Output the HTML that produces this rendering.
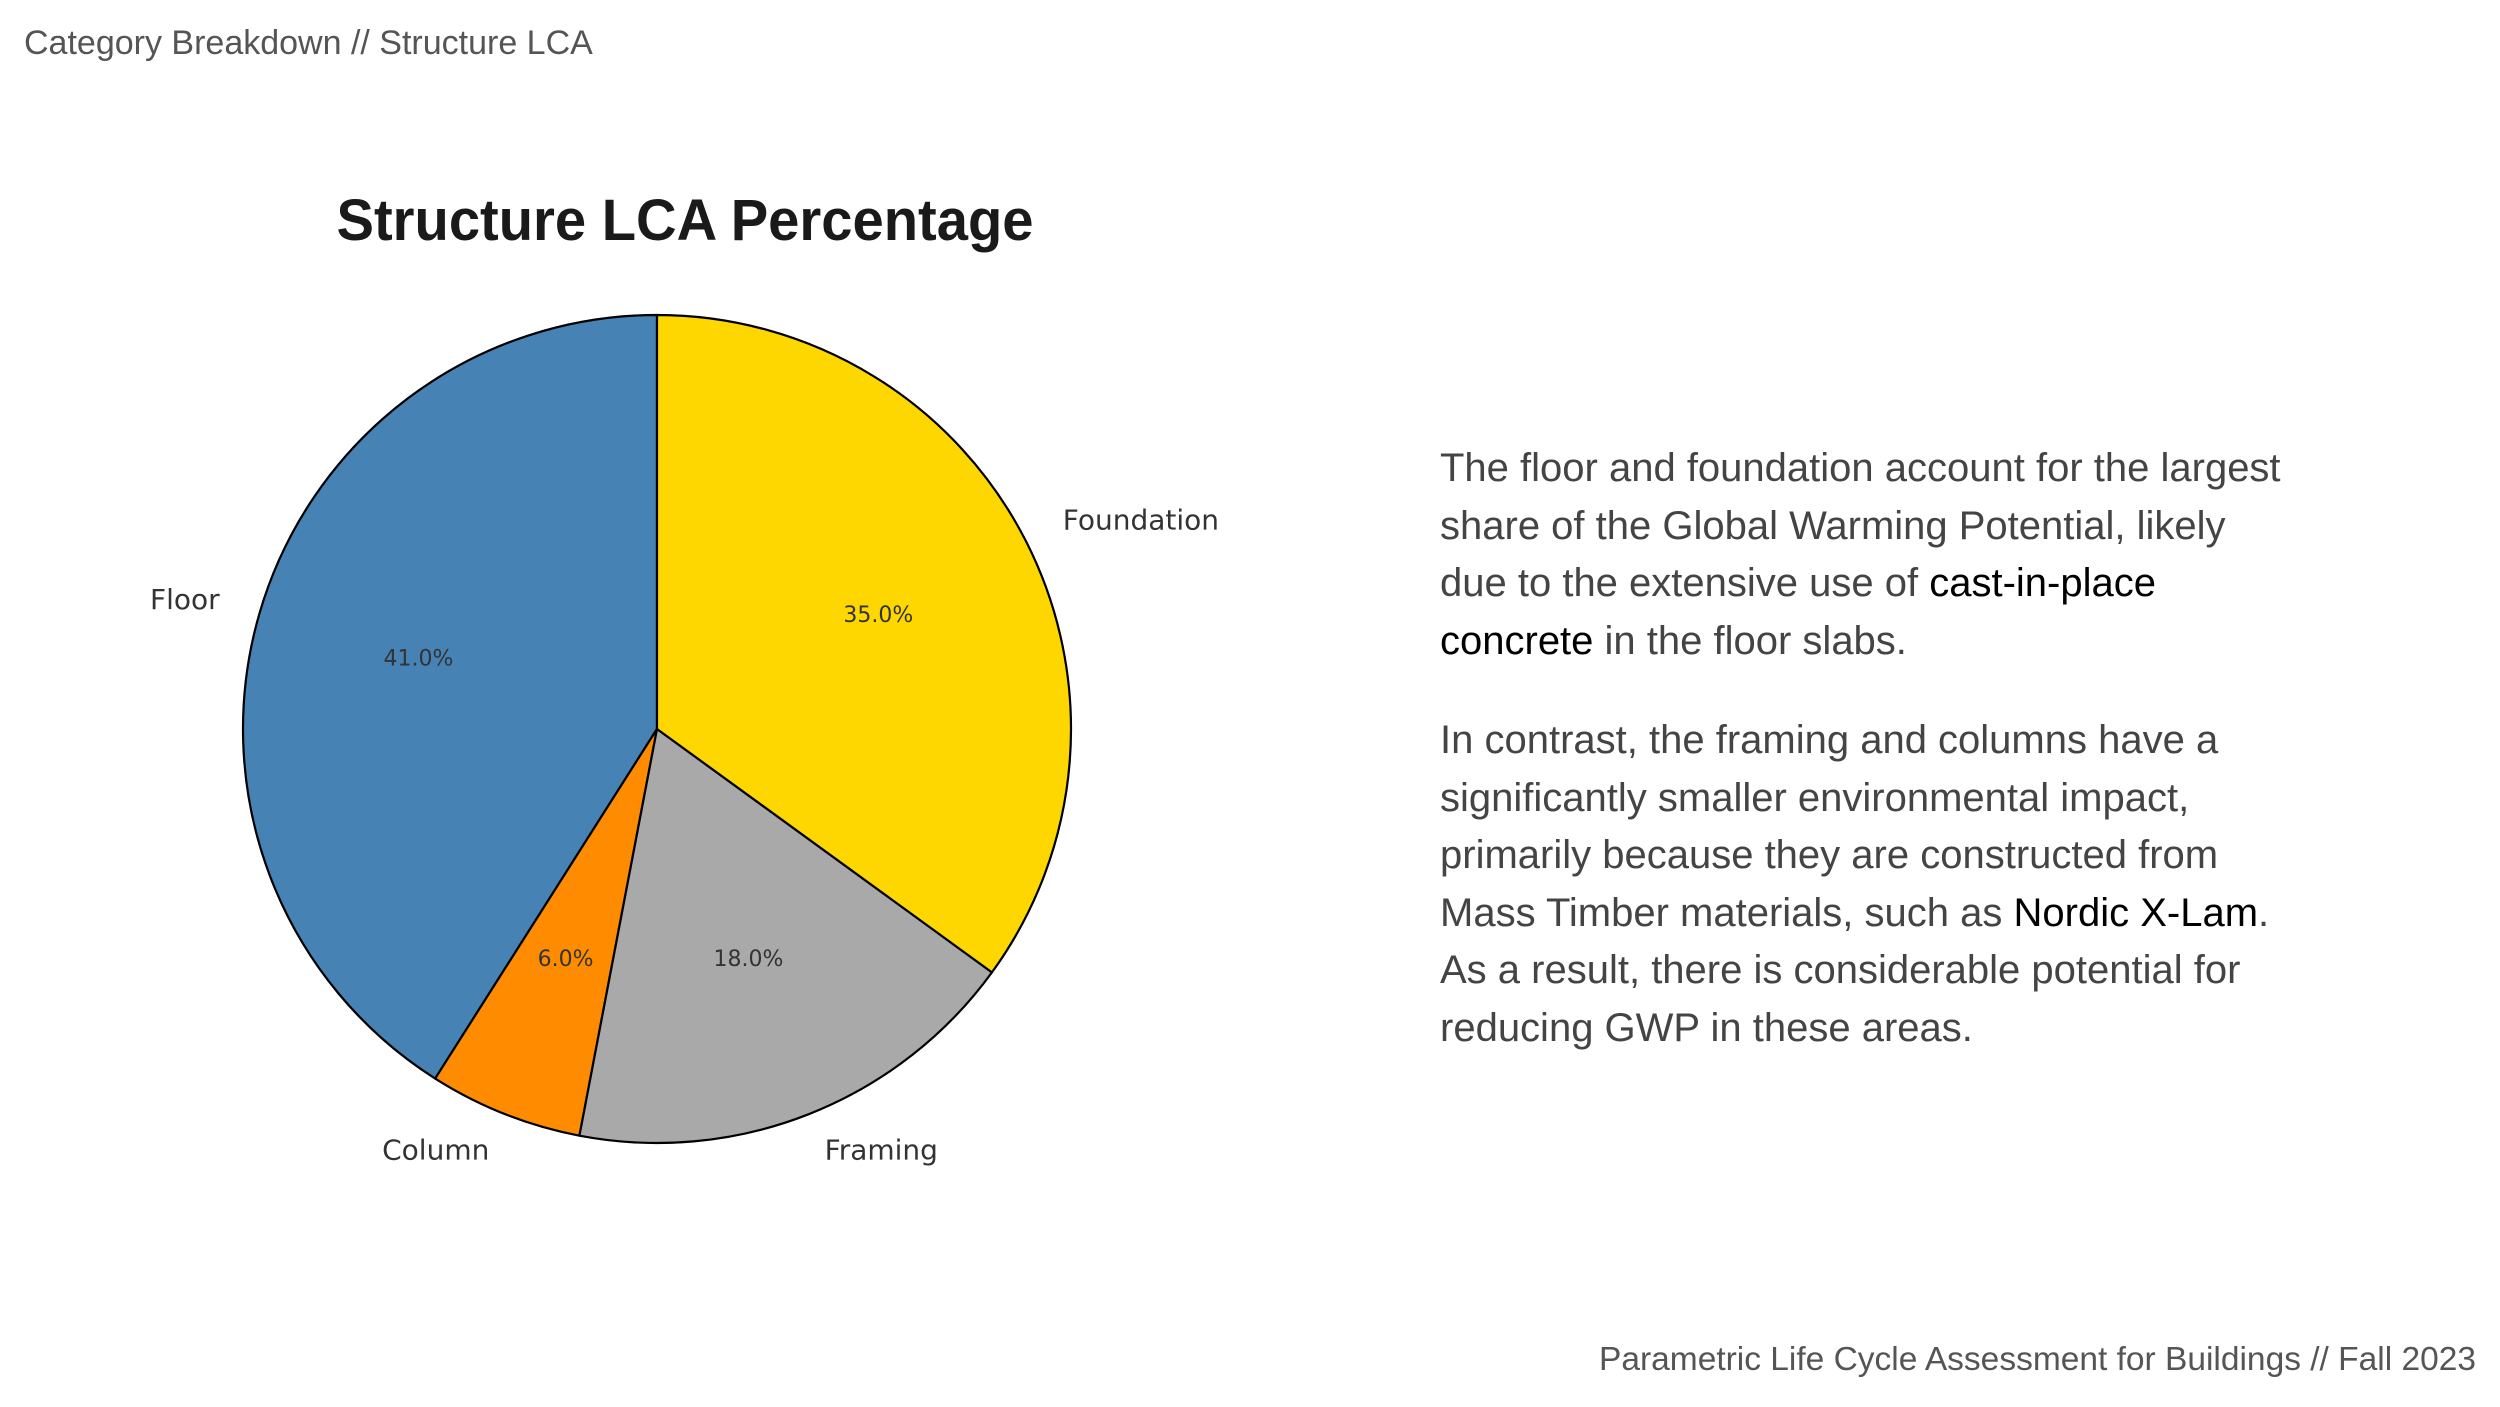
<!DOCTYPE html>
<html><head><meta charset="utf-8"><style>
html,body{margin:0;padding:0;background:#fff;}
body{width:2500px;height:1407px;position:relative;overflow:hidden;font-family:"Liberation Sans",sans-serif;}
.hdr{position:absolute;left:24px;top:24px;font-size:34px;color:#555;}
.ftr{position:absolute;right:24px;top:1341px;font-size:33.5px;color:#555;}
.body{position:absolute;left:1440px;top:440px;width:1100px;font-size:40px;line-height:57.6px;color:#444;white-space:nowrap;}
.body p{margin:0 0 41.6px 0;}
.body b{font-weight:normal;color:#000;}
</style></head><body>
<div class="hdr">Category Breakdown // Structure LCA</div>
<svg width="2500" height="1407" style="position:absolute;left:0;top:0">
<text x="685" y="240" text-anchor="middle" font-family="Liberation Sans, sans-serif" font-weight="bold" font-size="58" fill="#1a1a1a" textLength="697" lengthAdjust="spacingAndGlyphs">Structure LCA Percentage</text>
<g id="pie"></g>
</svg>
<div class="body">
<p>The floor and foundation account for the largest<br>share of the Global Warming Potential, likely<br>due to the extensive use of <b>cast-in-place</b><br><b>concrete</b> in the floor slabs.</p>
<p>In contrast, the framing and columns have a<br>significantly smaller environmental impact,<br>primarily because they are constructed from<br>Mass Timber materials, such as <b>Nordic X-Lam</b>.<br>As a result, there is considerable potential for<br>reducing GWP in these areas.</p>
</div>
<div class="ftr">Parametric Life Cycle Assessment for Buildings // Fall 2023</div>
<script>
const categories = ["Floor","Column","Framing","Foundation"];
const values = [41,6,18,35];
const colors = ["#4682b4","#ff8c00","#a9a9a9","#ffd700"];
const pctLabels = ["41.0%","6.0%","18.0%","35.0%"];
const cx=657, cy=729, R=414;
const g=document.getElementById('pie');
const NS='http://www.w3.org/2000/svg';
const total=values.reduce((a,b)=>a+b,0);
function pt(deg,r){const a=deg*Math.PI/180;return [cx+r*Math.cos(a), cy-r*Math.sin(a)];}
let ang=90;
values.forEach((v,i)=>{
  const sweep=v/total*360, a0=ang, a1=ang+sweep;
  const p0=pt(a0,R), p1=pt(a1,R);
  const path=document.createElementNS(NS,'path');
  path.setAttribute('d',`M${cx},${cy} L${p0[0]},${p0[1]} A${R},${R} 0 ${sweep>180?1:0} 0 ${p1[0]},${p1[1]} Z`);
  path.setAttribute('fill',colors[i]);path.setAttribute('stroke','#000');path.setAttribute('stroke-width','2.2');path.setAttribute('stroke-linejoin','round');
  
  
  g.appendChild(path);
  const mid=(a0+a1)/2;
  const lp=pt(mid,R*1.1);
  const t=document.createElementNS(NS,'text');
  t.setAttribute('x',lp[0]);t.setAttribute('y',lp[1]+7);
  t.setAttribute('text-anchor',lp[0]>cx?'start':'end');
  t.setAttribute('font-family','DejaVu Sans, sans-serif');t.setAttribute('font-size','28');t.setAttribute('fill','#333');
  t.textContent=categories[i];
  
  
  g.appendChild(t);
  const pp=pt(mid,R*0.6);
  const tp=document.createElementNS(NS,'text');
  tp.setAttribute('x',pp[0]);tp.setAttribute('y',pp[1]+6);
  tp.setAttribute('text-anchor','middle');
  tp.setAttribute('font-family','DejaVu Sans, sans-serif');tp.setAttribute('font-size','22');tp.setAttribute('fill','#333');
  tp.textContent=pctLabels[i];
  
  
  g.appendChild(tp);
  ang=a1;
});
</script>
</body></html>
